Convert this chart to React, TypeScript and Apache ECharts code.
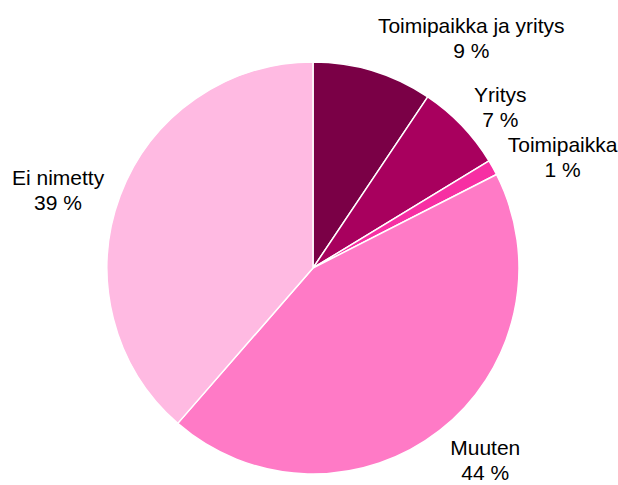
import React, { useEffect, useRef } from "react";
import * as echarts from "echarts";

const categories = ["Toimipaikka ja yritys", "Yritys", "Toimipaikka", "Muuten", "Ei nimetty"];
const values = [9.4, 6.9, 1.2, 43.9, 38.6];
const colors = ["#7a0046", "#a8005e", "#f72fa3", "#ff7ac6", "#ffbae2"];

const CX = 313;
const CY = 268;
const RADIUS = 206;
const LABEL_R = 223;

export default function App() {
  const ref = useRef<HTMLDivElement>(null);
  useEffect(() => {
    if (!ref.current) return;
    const chart = echarts.init(ref.current, undefined, { renderer: "svg" });
    const total = values.reduce((a, b) => a + b, 0);
    chart.setOption({
      animation: false,
      backgroundColor: "#ffffff",
      series: [
        {
          type: "pie",
          center: [CX, CY],
          radius: [0, RADIUS],
          startAngle: 90,
          clockwise: true,
          avoidLabelOverlap: false,
          data: categories.map((name, i) => ({
            name,
            value: values[i],
            itemStyle: { color: colors[i] },
          })),
          itemStyle: { borderColor: "#ffffff", borderWidth: 1.5 },
          emphasis: { disabled: true },
          label: {
            show: true,
            position: "outside",
            formatter: (p: any) => `${p.name}\n${Math.round(p.percent)} %`,
            fontFamily: "'Liberation Sans', Arial, sans-serif",
            fontSize: 21,
            lineHeight: 25,
            color: "#000000",
            align: "center",
          },
          labelLine: { show: false, length: 17, length2: 0 },
          labelLayout: (params: any) => {
            const i = params.dataIndex;
            let start = 0;
            for (let k = 0; k < i; k++) start += values[k];
            const mid = ((start + values[i] / 2) / total) * Math.PI * 2;
            const ux = Math.sin(mid);
            const uy = -Math.cos(mid);
            const ax = CX + LABEL_R * ux;
            const ay = CY + LABEL_R * uy;
            const w = params.labelRect.width;
            const h = params.labelRect.height;
            const x = ux >= 0 ? ax + w / 2 : ax - w / 2;
            const y = ay + uy * Math.abs(uy) * (h / 2) * 0.85 + 3;
            return { x, y, align: "center", verticalAlign: "middle" };
          },
        },
      ],
    });
    return () => chart.dispose();
  }, []);
  return (
    <div
      ref={ref}
      style={{ position: "absolute", left: 0, top: 0, width: 618, height: 485 }}
    />
  );
}
